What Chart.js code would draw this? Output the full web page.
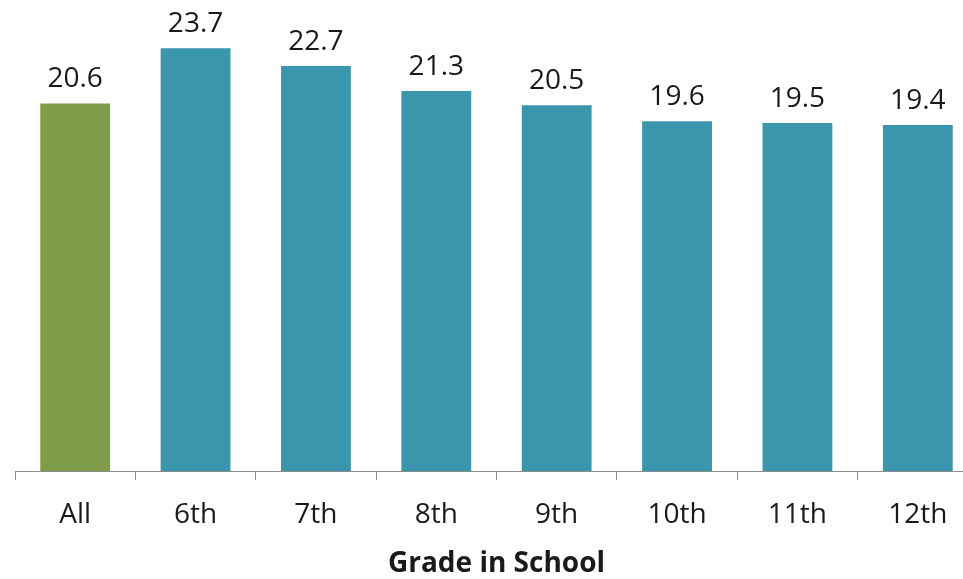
<!DOCTYPE html>
<html>
<head>
<meta charset="utf-8">
<script src="https://cdn.jsdelivr.net/npm/chart.js@4.4.1/dist/chart.umd.min.js"></script>
<style>
    html, body { margin: 0; padding: 0; background: #fff; overflow: hidden; }
    #wrap { width: 963px; height: 579px; overflow: hidden; }
</style>
</head>
<body>
<div id="wrap">
    <canvas id="gradeChart" width="995" height="579"></canvas>
</div>
<script>
// chart data
const grades = ['All', '6th', '7th', '8th', '9th', '10th', '11th', '12th'];
const values = [20.6, 23.7, 22.7, 21.3, 20.5, 19.6, 19.5, 19.4];
const barColors = ['#7F9C48', '#3A96AC', '#3A96AC', '#3A96AC', '#3A96AC', '#3A96AC', '#3A96AC', '#3A96AC'];
const axisTitle = 'Grade in School';

const textFont = "'Open Sans', 'DejaVu Sans', sans-serif";

// draws the value above each bar
const valueLabels = {
    id: 'valueLabels',
    afterDatasetsDraw(chart) {
        const ctx = chart.ctx;
        const meta = chart.getDatasetMeta(0);
        ctx.save();
        ctx.font = '28px ' + textFont;
        ctx.fillStyle = '#1a1a1a';
        ctx.textAlign = 'center';
        ctx.textBaseline = 'alphabetic';
        meta.data.forEach((bar, i) => {
            ctx.fillText(values[i].toFixed(1), bar.x, bar.y - 16);
        });
        ctx.restore();
    }
};

const ctx = document.getElementById('gradeChart').getContext('2d');
const chart = new Chart(ctx, {
    type: 'bar',
    data: {
        labels: grades,
        datasets: [{
            data: values,
            backgroundColor: barColors,
            borderWidth: 0,
            barPercentage: 0.58,
            categoryPercentage: 1.0
        }]
    },
    options: {
        responsive: false,
        animation: false,
        layout: {
            padding: { top: 25, left: 15, right: 17, bottom: 0 }
        },
        plugins: {
            legend: { display: false },
            tooltip: { enabled: false }
        },
        scales: {
            y: {
                display: false,
                min: 0,
                max: 25
            },
            x: {
                offset: true,
                border: { display: true, color: '#8c8c8c', width: 1 },
                grid: {
                    offset: true,
                    drawOnChartArea: false,
                    drawTicks: true,
                    tickLength: 9,
                    color: '#8c8c8c'
                },
                ticks: {
                    color: '#1a1a1a',
                    padding: 18,
                    font: { family: textFont, size: 28 }
                },
                title: {
                    display: true,
                    text: axisTitle,
                    color: '#1a1a1a',
                    padding: { top: 0, bottom: 1 },
                    font: { family: textFont, size: 28, weight: 'bold', lineHeight: 1 }
                },
                afterFit(scale) {
                    scale.height = 108;
                }
            }
        }
    },
    plugins: [valueLabels]
});
</script>
</body>
</html>
